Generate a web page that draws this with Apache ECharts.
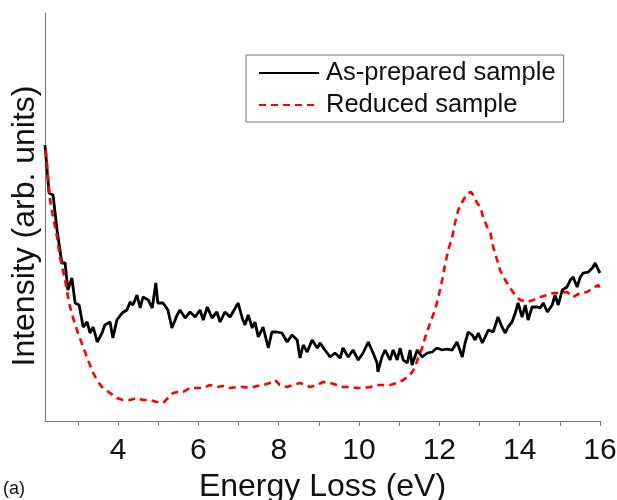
<!DOCTYPE html>
<html>
<head>
<meta charset="utf-8">
<script src="https://cdn.jsdelivr.net/npm/echarts@6/dist/echarts.min.js"></script>
<style>
  html, body { margin: 0; padding: 0; background: #fff; }
  #chart { width: 617px; height: 500px; }
</style>
</head>
<body>
<div id="chart"></div>
<script>
// energy loss (eV) and intensity (arb. units)
const asPreparedE = [2.18, 2.20, 2.28, 2.38, 2.48, 2.60, 2.68, 2.75, 2.85, 2.93, 3.03, 3.13, 3.23, 3.30, 3.38, 3.48, 3.60, 3.67, 3.80, 3.87, 3.97,
  4.10, 4.22, 4.30, 4.37, 4.47, 4.55, 4.62, 4.75, 4.85, 4.94, 4.99, 5.12, 5.24, 5.34, 5.47, 5.54, 5.67, 5.79, 5.92, 6.04, 6.12, 6.22,
  6.34, 6.46, 6.54, 6.66, 6.79, 6.86, 6.99, 7.09, 7.16, 7.24, 7.34, 7.41, 7.49, 7.61, 7.74, 7.83, 7.96, 8.08, 8.21, 8.33, 8.46, 8.53,
  8.61, 8.71, 8.83, 8.96, 9.03, 9.15, 9.28, 9.40, 9.53, 9.60, 9.73, 9.85, 9.98, 10.10, 10.23, 10.35, 10.45, 10.47, 10.57, 10.65, 10.77,
  10.85, 10.95, 11.02, 11.10, 11.20, 11.27, 11.32, 11.45, 11.57, 11.70, 11.82, 11.94, 12.07, 12.19, 12.32, 12.44, 12.57, 12.64, 12.72,
  12.82, 12.89, 12.97, 13.07, 13.14, 13.22, 13.34, 13.46, 13.56, 13.64, 13.71, 13.81, 13.89, 13.96, 14.06, 14.14, 14.21, 14.31, 14.44,
  14.51, 14.59, 14.69, 14.81, 14.88, 14.96, 15.06, 15.18, 15.26, 15.33, 15.43, 15.51, 15.58, 15.71, 15.81, 15.88, 15.96, 16.00];
const asPreparedI = [276, 274, 228, 226, 191, 158, 158, 131, 143, 118, 116, 94, 99, 88, 94, 79, 88, 96, 99, 83, 101,
  108, 111, 119, 116, 126, 113, 124, 121, 113, 138, 118, 118, 111, 93, 106, 111, 103, 109, 104, 111, 101, 114,
  103, 109, 99, 109, 104, 109, 118, 103, 96, 106, 93, 99, 84, 94, 73, 89, 89, 88, 79, 86, 81, 63,
  76, 69, 81, 73, 78, 71, 64, 68, 63, 73, 64, 71, 61, 68, 79, 68, 58, 49, 64, 71, 61,
  71, 61, 73, 61, 58, 71, 56, 71, 64, 68, 69, 73, 71, 72, 71, 79, 64, 78, 89,
  86, 81, 88, 78, 84, 91, 89, 104, 94, 88, 94, 99, 108, 118, 104, 116, 101, 114, 114,
  113, 118, 109, 116, 126, 116, 131, 134, 141, 144, 134, 144, 148, 149, 153, 158, 151, 148];

const reducedE = [2.20, 2.30, 2.38, 2.48, 2.55, 2.68, 2.78, 2.88, 3.00, 3.13, 3.25, 3.38, 3.50, 3.62, 3.80, 3.97, 4.12, 4.30, 4.47,
  4.62, 4.80, 4.97, 5.12, 5.24, 5.37, 5.49, 5.62, 5.79, 5.97, 6.12, 6.29, 6.46, 6.61, 6.79, 6.96, 7.11, 7.29, 7.46, 7.61, 7.78,
  7.91, 8.03, 8.21, 8.36, 8.53, 8.66, 8.78, 8.96, 9.10, 9.28, 9.45, 9.60, 9.78, 9.95, 10.10, 10.28, 10.45, 10.60, 10.77, 10.95,
  11.10, 11.27, 11.40, 11.47, 11.57, 11.65, 11.77, 11.89, 11.97, 12.07, 12.14, 12.22, 12.32, 12.39, 12.47, 12.57, 12.64, 12.72,
  12.79, 12.84, 12.94, 13.02, 13.09, 13.19, 13.27, 13.34, 13.44, 13.51, 13.64, 13.76, 13.89, 14.01, 14.19, 14.34, 14.51, 14.69,
  14.83, 15.01, 15.18, 15.33, 15.51, 15.68, 15.83, 15.96, 16.00];
const reducedI = [271, 223, 204, 184, 164, 141, 118, 103, 88, 74, 61, 48, 39, 33, 28, 23, 21, 21, 23,
  21, 21, 19, 18, 23, 28, 29, 29, 33, 33, 33, 36, 34, 35, 33, 34, 34, 33, 35, 36, 38,
  41, 36, 34, 36, 38, 36, 34, 36, 39, 38, 36, 34, 34, 33, 33, 34, 36, 36, 36, 38,
  41, 46, 54, 63, 73, 84, 98, 111, 123, 141, 156, 171, 184, 198, 211, 219, 224, 228,
  229, 226, 218, 214, 204, 194, 188, 174, 161, 151, 141, 133, 126, 121, 119, 121, 124, 126,
  128, 128, 129, 124, 128, 129, 133, 136, 131];

const xLabels = [4, 6, 8, 10, 12, 14, 16];
const xTicks = [3, 4, 5, 6, 7, 8, 9, 10, 11, 12, 13, 14, 15, 16];

const zip = (a, b) => a.map((v, i) => [v, b[i]]);
const font = "'Liberation Sans', Arial, sans-serif";

const chart = echarts.init(document.getElementById('chart'));
chart.setOption({
  animation: false,
  grid: { left: 45, right: 17, top: 13, bottom: 79, containLabel: false, outerBoundsMode: 'none' },
  legend: {
    orient: 'vertical',
    left: 246,
    top: 55,
    padding: [5, 8, 4, 12],
    itemGap: 6,
    itemWidth: 60,
    itemHeight: 14,
    borderColor: '#777',
    borderWidth: 1,
    itemStyle: { opacity: 0 },
    textStyle: { fontFamily: font, fontSize: 25.5, color: '#111', padding: [0, 0, 0, 2] },
    data: ['As-prepared sample', 'Reduced sample']
  },
  xAxis: {
    type: 'value',
    min: 2.18,
    max: 16,
    name: 'Energy Loss (eV)',
    nameLocation: 'middle',
    nameGap: 50,
    nameMoveOverlap: false,
    nameTextStyle: { fontFamily: font, fontSize: 32, color: '#111' },
    axisLine: { lineStyle: { color: '#777', width: 1 } },
    axisTick: { inside: false, length: 5, lineStyle: { color: '#777' }, customValues: xTicks },
    axisLabel: { fontFamily: font, fontSize: 30, color: '#111', margin: 15, customValues: xLabels },
    splitLine: { show: false }
  },
  yAxis: {
    type: 'value',
    min: 0,
    max: 408,
    name: 'Intensity (arb. units)',
    nameLocation: 'middle',
    nameGap: 4,
    nameMoveOverlap: false,
    nameTextStyle: { fontFamily: font, fontSize: 32, color: '#111', padding: [0, 18, 0, 0] },
    axisLine: { show: true, lineStyle: { color: '#777', width: 1 } },
    axisTick: { show: false },
    axisLabel: { show: false },
    splitLine: { show: false }
  },
  graphic: [{
    type: 'text',
    left: 3,
    top: 480,
    style: { text: '(a)', font: '18px ' + font, fill: '#111' }
  }],
  series: [
    {
      name: 'As-prepared sample',
      type: 'line',
      symbol: 'none',
      data: zip(asPreparedE, asPreparedI),
      lineStyle: { color: '#000', width: 2.8 },
      itemStyle: { color: '#000' }
    },
    {
      name: 'Reduced sample',
      type: 'line',
      symbol: 'none',
      data: zip(reducedE, reducedI),
      lineStyle: { color: '#ff0000', width: 2.6, type: [7, 5] },
      itemStyle: { color: '#ff0000' }
    }
  ]
});
</script>
</body>
</html>
